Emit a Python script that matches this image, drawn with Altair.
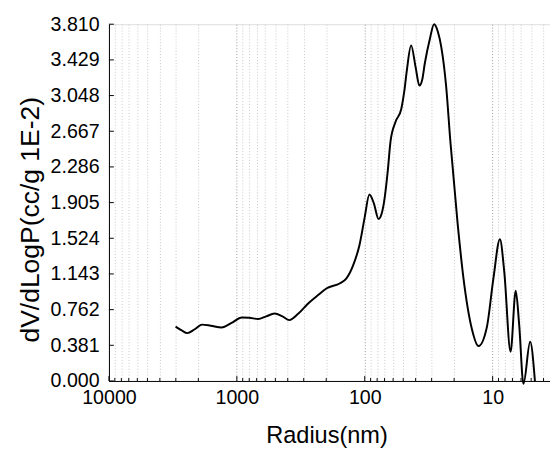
import altair as alt
import pandas as pd

radius = [3013, 2700, 2438, 2150, 1871, 1600, 1315, 1100, 912, 800, 681, 590, 507, 440,
          389, 330, 282, 230, 198, 156, 139, 122, 110, 100, 92, 85, 78, 74, 70.6, 66,
          62.9, 57.5, 51.8, 49, 46.8, 43.4, 40, 37.4, 35.5, 33.9, 31, 28.7, 26.8, 25.2,
          23.1, 21.4, 18.8, 16.9, 14.5, 12.9, 11.1, 9.86, 8.77, 8.11, 7.24, 6.6, 6.2,
          5.74, 5.09, 4.67]
dv = [0.581, 0.54, 0.511, 0.55, 0.602, 0.59, 0.571, 0.62, 0.678, 0.675, 0.661, 0.69,
      0.72, 0.69, 0.65, 0.72, 0.817, 0.92, 0.99, 1.044, 1.096, 1.25, 1.45, 1.75, 1.991,
      1.90, 1.73, 1.78, 1.913, 2.25, 2.557, 2.766, 2.905, 3.10, 3.323, 3.584, 3.35,
      3.155, 3.22, 3.393, 3.65, 3.81, 3.73, 3.566, 3.149, 2.557, 1.688, 1.096, 0.55,
      0.373, 0.574, 1.096, 1.514, 1.166, 0.313, 0.963, 0.6, -0.03, 0.418, 0.0]

y_ticks = [0.0, 0.381, 0.762, 1.143, 1.524, 1.905, 2.286, 2.667, 3.048, 3.429, 3.810]
major_x = [10, 100, 1000, 10000]
minor_x = [4, 5, 6, 7, 8, 9, 20, 30, 40, 50, 60, 70, 80, 90, 200, 300, 400, 500, 600,
           700, 800, 900, 2000, 3000, 4000, 5000, 6000, 7000, 8000, 9000]

df = pd.DataFrame({"r": radius, "v": dv})
majors = pd.DataFrame({"t": major_x})
minors = pd.DataFrame({"t": minor_x})
yt = pd.DataFrame({"y": y_ticks})

W, H = 450, 364
FONT = "Liberation Sans"

xscale = alt.Scale(type="log", domain=[10000, 3.56], nice=False)
yscale = alt.Scale(domain=[0, 3.81], nice=False, zero=False)

xaxis = alt.Axis(values=sorted(major_x + minor_x), title="Radius(nm)",
                 labelExpr="indexof([10,100,1000,10000], datum.value) >= 0 ? datum.label : ''",
                 format="d", grid=True, gridDash=[1, 2],
                 gridColor={"condition": {"test": "indexof([10,100,1000,10000], datum.value) >= 0", "value": "#999999"}, "value": "#c8c8c8"},
                 ticks=False, tickSize=0, labelPadding=7, labelFontSize=20, labelFont=FONT,
                 labelColor="black", domainColor="black", titleFont=FONT, titleFontSize=24,
                 titleFontWeight="normal", titleColor="black", titleX=222, titleY=56,
                 titleBaseline="middle", labelFlush=False, labelOverlap=False)
yaxis = alt.Axis(values=y_ticks, format=".3f", title="dV/dLogP(cc/g 1E-2)", grid=False,
                 ticks=False, tickSize=0, labelPadding=10, labelFontSize=20, labelFont=FONT,
                 labelColor="black", domainColor="black", titleFont=FONT, titleFontSize=27,
                 titleFontWeight="normal", titleColor="black", titleX=-80, titleY=199,
                 titleBaseline="middle", labelFlush=False, labelOverlap=False)

line = alt.Chart(df).mark_line(color="black", strokeWidth=2, interpolate="monotone", clip=False).encode(
    x=alt.X("r:Q", scale=xscale, axis=xaxis),
    y=alt.Y("v:Q", scale=yscale, axis=yaxis),
)

major_ticks = alt.Chart(majors).mark_rule(color="black", strokeWidth=1).encode(
    x=alt.X("t:Q", scale=xscale, axis=xaxis), y=alt.value(H), y2=alt.value(H - 5))
minor_ticks = alt.Chart(minors).mark_rule(color="black", strokeWidth=1).encode(
    x=alt.X("t:Q", scale=xscale, axis=xaxis), y=alt.value(H), y2=alt.value(H - 3))
y_tick_marks = alt.Chart(yt).mark_rule(color="black", strokeWidth=1).encode(
    y=alt.Y("y:Q", scale=yscale, axis=yaxis), x=alt.value(0), x2=alt.value(5))

chart = alt.layer(line, major_ticks, minor_ticks, y_tick_marks).properties(
    width=W, height=H,
    autosize=alt.AutoSizeParams(type="none"),
    padding={"left": 103, "top": 12, "right": 0, "bottom": 72},
).configure_view(stroke="black", strokeWidth=1).configure(background="white")

chart.save("out.html", embed_options={"renderer": "svg", "actions": False})
